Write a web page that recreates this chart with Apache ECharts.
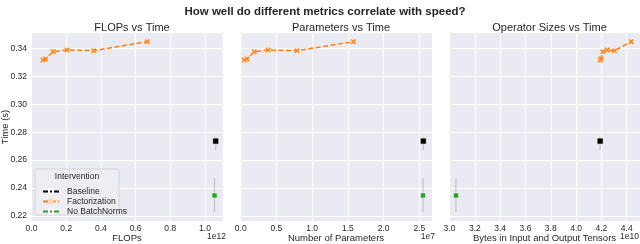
<!DOCTYPE html>
<html>
<head>
<meta charset="utf-8">
<script src="https://cdn.jsdelivr.net/npm/echarts@6/dist/echarts.min.js"></script>
<style>html,body{margin:0;padding:0;background:#fff;}#c{width:640px;height:244px;}</style>
</head>
<body>
<div id="c"></div>
<script>
// ---- data ----
const seriesNames = ['Baseline', 'Factorization', 'No BatchNorms'];
const panelTitles = ['FLOPs vs Time', 'Parameters vs Time', 'Operator Sizes vs Time'];
const xAxisNames = ['FLOPs', 'Number of Parameters', 'Bytes in Input and Output Tensors'];
const offsetTexts = ['1e12', '1e7', '1e10'];

const factFlops = [0.066e12, 0.080e12, 0.124e12, 0.205e12, 0.358e12, 0.667e12];
const factParams = [0.05e7, 0.088e7, 0.19e7, 0.387e7, 0.789e7, 1.577e7];
const factBytes = [4.19e10, 4.198e10, 4.211e10, 4.246e10, 4.303e10, 4.435e10];
const factTime = [0.3317, 0.3325, 0.3377, 0.3389, 0.3384, 0.3449];

const baseFlops = [1.062e12];
const baseParams = [2.556e7];
const baseBytes = [4.19e10];
const baseTime = [0.2736];
const baseTimeLo = [0.2671];
const baseTimeHi = [0.2767];

const nobnFlops = [1.055e12];
const nobnParams = [2.553e7];
const nobnBytes = [3.051e10];
const nobnTime = [0.2346];
const nobnTimeLo = [0.2228];
const nobnTimeHi = [0.2470];

const yTicks = [0.22, 0.24, 0.26, 0.28, 0.30, 0.32, 0.34];
const xTicks1 = [0, 0.2e12, 0.4e12, 0.6e12, 0.8e12, 1.0e12];
const xTicks2 = [0, 0.5e7, 1.0e7, 1.5e7, 2.0e7, 2.5e7];
const xTicks3 = [3.0e10, 3.2e10, 3.4e10, 3.6e10, 3.8e10, 4.0e10, 4.2e10, 4.4e10];

// ---- layout ----
const grids = [
  {left: 31, top: 33, width: 192, height: 188},
  {left: 240, top: 33, width: 192, height: 188},
  {left: 449, top: 33, width: 191, height: 188}
];
const xRanges = [[-0.003e12, 1.104e12], [-0.01e7, 2.678e7], [2.996e10, 4.505e10]];
const xTickSets = [xTicks1, xTicks2, xTicks3];
const xScales = [1e12, 1e7, 1e10];
const factX = [factFlops, factParams, factBytes];
const baseX = [baseFlops, baseParams, baseBytes];
const nobnX = [nobnFlops, nobnParams, nobnBytes];

const ORANGE = '#ff7f0e', GREEN = '#2ca02c', BLACK = '#000000';
const TXT = '#262626';
const FONT = '"Liberation Sans", Arial, sans-serif';
const XSYM = 'path://M0,2 L2,0 L5,3 L8,0 L10,2 L7,5 L10,8 L8,10 L5,7 L2,10 L0,8 L3,5 Z';

function zip(xs, ys) { return xs.map((x, i) => [x, ys[i]]); }

const xAxes = [], yAxes = [], series = [], titles = [];
grids.forEach((g, i) => {
  xAxes.push({
    type: 'value', gridIndex: i, min: xRanges[i][0], max: xRanges[i][1],
    name: xAxisNames[i], nameLocation: 'middle', nameGap: 12, nameMoveOverlap: false,
    nameTextStyle: {fontSize: 9.5, color: TXT, fontFamily: FONT},
    axisLine: {show: false}, axisTick: {show: false, customValues: xTickSets[i]},
    axisLabel: {customValues: xTickSets[i], fontSize: 8.5, color: TXT, fontFamily: FONT, margin: 3,
      formatter: v => (v / xScales[i]).toFixed(1)},
    splitLine: {show: true, lineStyle: {color: '#ffffff', width: 1}}
  });
  yAxes.push({
    type: 'value', gridIndex: i, min: 0.2163, max: 0.3511,
    name: i === 0 ? 'Time (s)' : '', nameLocation: 'middle', nameGap: 21, nameMoveOverlap: false,
    nameTextStyle: {fontSize: 9.5, color: TXT, fontFamily: FONT},
    axisLine: {show: false}, axisTick: {show: false, customValues: yTicks},
    axisLabel: {show: i === 0, customValues: yTicks, fontSize: 8.5, color: TXT, fontFamily: FONT, margin: 4,
      formatter: v => v.toFixed(2)},
    splitLine: {show: true, lineStyle: {color: '#ffffff', width: 1}}
  });
  titles.push({
    text: panelTitles[i], left: g.left + g.width / 2, top: 17, textAlign: 'center',
    textStyle: {fontSize: 11, fontWeight: 'normal', color: TXT, fontFamily: FONT}
  });
  const errData = [
    [baseX[i][0], baseTimeLo[0], baseTimeHi[0]],
    [nobnX[i][0], nobnTimeLo[0], nobnTimeHi[0]]
  ];
  series.push({
    type: 'custom', name: 'err' + i, xAxisIndex: i, yAxisIndex: i, z: 1, silent: true,
    data: errData,
    renderItem: (params, api) => {
      const p1 = api.coord([api.value(0), api.value(1)]);
      const p2 = api.coord([api.value(0), api.value(2)]);
      return {type: 'line', shape: {x1: p1[0], y1: p1[1], x2: p2[0], y2: p2[1]},
        style: {stroke: 'rgba(120,120,130,0.35)', lineWidth: 1.2}};
    }
  });
  series.push({
    type: 'line', name: 'Baseline', xAxisIndex: i, yAxisIndex: i, z: 3,
    data: zip(baseX[i], baseTime), symbol: 'rect', symbolSize: 6,
    itemStyle: {color: BLACK, borderColor: '#ffffff', borderWidth: 0.6},
    lineStyle: {color: BLACK, width: 2}
  });
  series.push({
    type: 'line', name: 'Factorization', xAxisIndex: i, yAxisIndex: i, z: 3,
    data: zip(factX[i], factTime), symbol: XSYM, symbolSize: 5.5,
    itemStyle: {color: ORANGE, borderColor: '#ffd9b3', borderWidth: 0.3},
    lineStyle: {color: ORANGE, width: 1.5, type: [5, 2.5]}
  });
  series.push({
    type: 'line', name: 'No BatchNorms', xAxisIndex: i, yAxisIndex: i, z: 3,
    data: zip(nobnX[i], nobnTime), symbol: 'rect', symbolSize: 5,
    itemStyle: {color: GREEN, borderColor: '#ffffff', borderWidth: 0.5},
    lineStyle: {color: GREEN, width: 1}
  });
});

titles.push({
  text: 'How well do different metrics correlate with speed?', left: 320, top: 1, textAlign: 'center',
  textStyle: {fontSize: 11.5, fontWeight: 'bold', color: TXT, fontFamily: FONT}
});

const chart = echarts.init(document.getElementById('c'), null, {renderer: 'canvas'});
chart.setOption({
  backgroundColor: '#ffffff',
  animation: false,
  title: titles,
  grid: grids.map(g => Object.assign({show: true, backgroundColor: '#EAEAF2', borderWidth: 0,
    containLabel: false, outerBoundsMode: 'none'}, g)),
  xAxis: xAxes,
  yAxis: yAxes,
  legend: {
    data: seriesNames, orient: 'vertical', left: 37, top: 182, itemGap: 1,
    itemWidth: 16, itemHeight: 5,
    textStyle: {fontSize: 8.5, color: TXT, fontFamily: FONT, padding: [0, 0, 0, 3]},
    z: 10
  },
  graphic: [
    {type: 'rect', z: 5, shape: {x: 35, y: 169, width: 84, height: 46, r: 2},
      style: {fill: '#EDEDF3', stroke: '#cfcfd4', lineWidth: 0.8}},
    {type: 'text', z: 11, x: 77, y: 177,
      style: {text: 'Intervention', fontSize: 8.5, fill: TXT, fontFamily: FONT, align: 'center', verticalAlign: 'middle'}},
    ...offsetTexts.map((t, i) => ({
      type: 'text', z: 11, x: Math.min(grids[i].left + grids[i].width + 3, 639), y: 237,
      style: {text: t, fontSize: 8.5, fill: TXT, fontFamily: FONT, align: 'right', verticalAlign: 'middle'}
    }))
  ],
  series: series
});
</script>
</body>
</html>
